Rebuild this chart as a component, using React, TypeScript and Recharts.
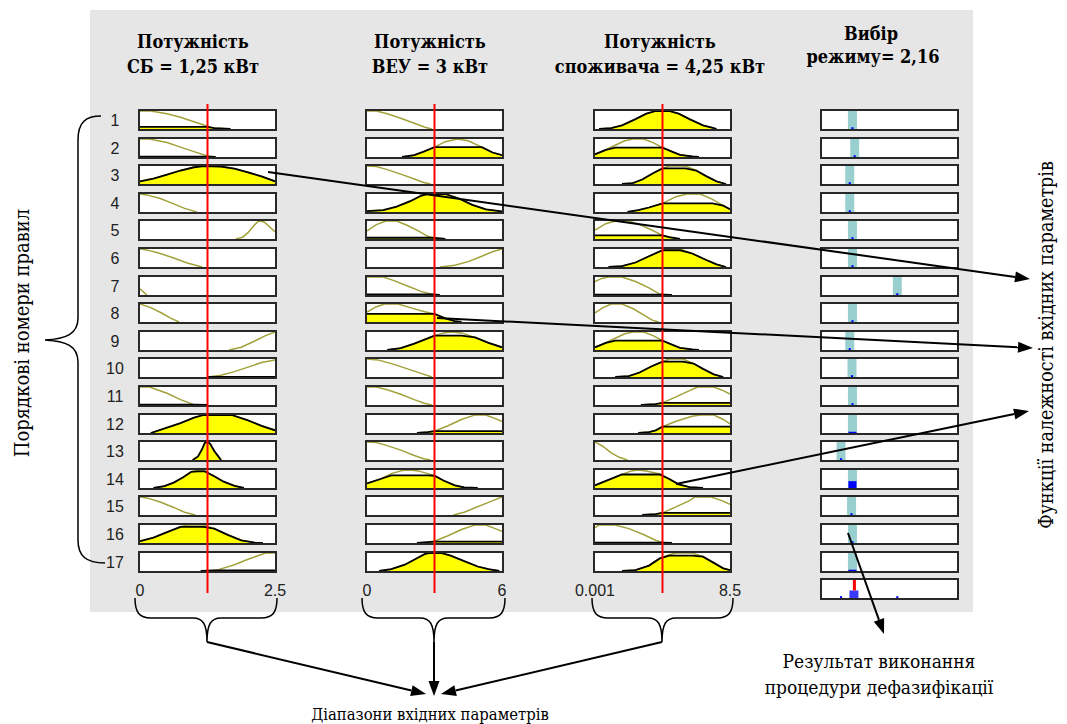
import React from "react";
import {
  ComposedChart,
  Line,
  Area,
  XAxis,
  YAxis,
  ReferenceLine,
  ReferenceArea,
} from "recharts";

type Pt = [number, number];

// ---- data (x as a fraction of each input range) ----
const ruleNumbers = [1, 2, 3, 4, 5, 6, 7, 8, 9, 10, 11, 12, 13, 14, 15, 16, 17];

const sbTitle = ["Потужність", "СБ = 1,25 кВт"];
const sbDomain = [0, 2.5];
const sbTicks = [0, 2.5];
const sbInput = 1.25;

const veuTitle = ["Потужність", "ВЕУ = 3 кВт"];
const veuDomain = [0, 6];
const veuTicks = [0, 6];
const veuInput = 3;

const loadTitle = ["Потужність", "споживача = 4,25 кВт"];
const loadDomain = [0.001, 8.5];
const loadTicks = [0.001, 8.5];
const loadInput = 4.25;

const outTitle = ["Вибір", "режиму= 2,16"];
const outDomain = [0, 9];
const outValue = 2.16;

const sbMf: Pt[][] = [
  [[0, 1], [0.08, 1], [0.2, 0.85], [0.3, 0.65], [0.4, 0.4], [0.5, 0.15], [0.55, 0.05], [0.67, 0]],
  [[0, 1], [0.07, 1], [0.2, 0.8], [0.3, 0.55], [0.4, 0.3], [0.5, 0.06], [0.56, 0]],
  [[0, 0.15], [0.1, 0.3], [0.2, 0.52], [0.3, 0.75], [0.4, 0.93], [0.47, 1], [0.6, 0.97], [0.7, 0.85], [0.8, 0.65], [0.9, 0.42], [1, 0.15]],
  [[0, 1], [0.05, 0.95], [0.15, 0.75], [0.25, 0.45], [0.33, 0.2], [0.42, 0]],
  [[0.71, 0], [0.76, 0.1], [0.8, 0.35], [0.85, 0.8], [0.88, 1], [0.92, 0.95], [1, 0.4]],
  [[0, 1], [0.05, 0.95], [0.15, 0.75], [0.25, 0.5], [0.35, 0.22], [0.46, 0]],
  [[0, 0.35], [0.05, 0]],
  [[0, 1], [0.08, 0.8], [0.16, 0.5], [0.23, 0.2], [0.29, 0]],
  [[0.66, 0], [0.75, 0.15], [0.85, 0.5], [0.93, 0.8], [1, 1]],
  [[0.5, 0], [0.6, 0.1], [0.7, 0.3], [0.8, 0.55], [0.9, 0.8], [1, 0.95]],
  [[0, 1], [0.07, 1], [0.2, 0.65], [0.3, 0.3], [0.4, 0.02], [0.5, 0]],
  [[0.08, 0], [0.2, 0.3], [0.3, 0.55], [0.4, 0.85], [0.47, 1], [0.68, 1], [0.8, 0.7], [0.9, 0.4], [1, 0.15]],
  [[0.39, 0], [0.43, 0.2], [0.46, 0.6], [0.48, 0.95], [0.5, 1], [0.52, 0.9], [0.55, 0.5], [0.58, 0.2], [0.6, 0]],
  [[0.1, 0], [0.18, 0.1], [0.25, 0.3], [0.32, 0.6], [0.38, 0.9], [0.43, 1], [0.48, 0.95], [0.55, 0.65], [0.62, 0.35], [0.7, 0.12], [0.77, 0]],
  [[0, 1], [0.05, 0.95], [0.15, 0.72], [0.25, 0.42], [0.33, 0.15], [0.41, 0]],
  [[0, 0.1], [0.1, 0.3], [0.2, 0.6], [0.3, 0.9], [0.35, 1], [0.47, 1], [0.55, 0.8], [0.65, 0.45], [0.75, 0.15], [0.85, 0.02], [0.91, 0]],
  [[0.45, 0], [0.57, 0.05], [0.7, 0.35], [0.8, 0.65], [0.93, 1], [1, 1]],
];
const sbLevel = [0.12, 0.02, 1, 0, 0, 0, 0, 0, 0, 0.01, 0.02, 1, 1, 0.92, 0, 0.9, 0.04];

const veuMf: Pt[][] = [
  [[0, 1], [0.07, 1], [0.15, 0.85], [0.25, 0.6], [0.35, 0.32], [0.43, 0.1], [0.48, 0]],
  [[0.26, 0], [0.35, 0.1], [0.42, 0.3], [0.5, 0.55], [0.58, 0.85], [0.67, 1], [0.75, 0.9], [0.85, 0.55], [0.93, 0.25], [1, 0.1]],
  [[0, 1], [0.07, 0.97], [0.15, 0.8], [0.25, 0.55], [0.35, 0.28], [0.42, 0.08], [0.47, 0]],
  [[0, 0.05], [0.12, 0.1], [0.22, 0.3], [0.32, 0.6], [0.4, 0.9], [0.45, 1], [0.58, 1], [0.68, 0.75], [0.78, 0.4], [0.88, 0.15], [1, 0.03]],
  [[0, 0.45], [0.07, 0.8], [0.14, 1], [0.22, 1], [0.3, 0.75], [0.38, 0.45], [0.45, 0.15], [0.5, 0.06], [0.58, 0]],
  [[0.54, 0], [0.65, 0.1], [0.75, 0.3], [0.85, 0.6], [0.93, 0.85], [1, 1]],
  [[0, 1], [0.12, 1], [0.2, 0.8], [0.3, 0.5], [0.4, 0.2], [0.49, 0.03], [0.54, 0]],
  [[0, 0.55], [0.07, 0.85], [0.13, 1], [0.23, 1], [0.32, 0.8], [0.42, 0.58], [0.5, 0.45], [0.58, 0.2], [0.65, 0.05], [0.7, 0]],
  [[0.15, 0], [0.25, 0.1], [0.35, 0.35], [0.45, 0.65], [0.5, 0.8], [0.57, 0.95], [0.62, 1], [0.7, 0.95], [0.8, 0.7], [0.9, 0.4], [1, 0.15]],
  [[0, 1], [0.08, 0.95], [0.2, 0.7], [0.3, 0.45], [0.4, 0.2], [0.48, 0]],
  [[0, 1], [0.07, 1], [0.15, 0.85], [0.25, 0.6], [0.35, 0.3], [0.43, 0.08], [0.48, 0]],
  [[0.37, 0], [0.45, 0.05], [0.5, 0.1], [0.6, 0.4], [0.7, 0.75], [0.78, 0.95], [0.8, 1], [0.88, 1], [0.95, 0.8], [1, 0.65]],
  [[0, 1], [0.07, 0.97], [0.15, 0.8], [0.25, 0.55], [0.35, 0.25], [0.42, 0.07], [0.47, 0]],
  [[0, 0.25], [0.1, 0.5], [0.18, 0.8], [0.26, 0.97], [0.32, 1], [0.38, 0.95], [0.45, 0.8], [0.5, 0.68], [0.57, 0.4], [0.65, 0.15], [0.72, 0.03], [0.82, 0]],
  [[0.64, 0], [0.72, 0.15], [0.8, 0.4], [0.9, 0.7], [1, 1]],
  [[0.37, 0], [0.45, 0.05], [0.5, 0.1], [0.6, 0.4], [0.7, 0.75], [0.78, 0.95], [0.8, 1], [0.88, 1], [0.95, 0.8], [1, 0.65]],
  [[0.09, 0], [0.18, 0.1], [0.28, 0.35], [0.38, 0.75], [0.43, 0.95], [0.46, 1], [0.55, 1], [0.62, 0.85], [0.72, 0.55], [0.82, 0.25], [0.9, 0.1], [0.98, 0]],
];
const veuLevel = [0, 0.55, 0, 1, 0.07, 0, 0.03, 0.45, 0.8, 0, 0, 0.1, 0, 0.7, 0, 0.08, 1];

const loadMf: Pt[][] = [
  [[0.03, 0], [0.12, 0.05], [0.2, 0.2], [0.3, 0.55], [0.38, 0.85], [0.45, 1], [0.55, 1], [0.62, 0.85], [0.7, 0.55], [0.8, 0.2], [0.88, 0.05], [0.9, 0]],
  [[0, 0.15], [0.08, 0.4], [0.15, 0.65], [0.22, 0.9], [0.28, 1], [0.36, 1], [0.43, 0.8], [0.5, 0.52], [0.57, 0.3], [0.63, 0.12], [0.72, 0.03], [0.77, 0]],
  [[0.2, 0], [0.28, 0.05], [0.35, 0.25], [0.43, 0.6], [0.5, 0.87], [0.55, 1], [0.67, 1], [0.75, 0.75], [0.82, 0.45], [0.9, 0.15], [0.97, 0]],
  [[0.24, 0], [0.32, 0.1], [0.4, 0.25], [0.5, 0.48], [0.6, 0.85], [0.68, 1], [0.78, 1], [0.87, 0.7], [0.95, 0.35], [1, 0.15]],
  [[0, 0.5], [0.08, 0.85], [0.15, 1], [0.25, 1], [0.33, 0.8], [0.42, 0.5], [0.5, 0.2], [0.55, 0.1], [0.63, 0]],
  [[0.1, 0], [0.2, 0.05], [0.3, 0.25], [0.4, 0.6], [0.5, 0.93], [0.52, 1], [0.63, 1], [0.72, 0.75], [0.82, 0.4], [0.9, 0.15], [0.97, 0]],
  [[0, 0.75], [0.05, 0.92], [0.1, 1], [0.2, 1], [0.3, 0.75], [0.4, 0.4], [0.48, 0.05], [0.57, 0]],
  [[0, 0.5], [0.06, 0.8], [0.12, 1], [0.2, 1], [0.28, 0.75], [0.36, 0.4], [0.42, 0.12], [0.47, 0]],
  [[0, 0.15], [0.08, 0.4], [0.15, 0.65], [0.22, 0.9], [0.28, 1], [0.36, 1], [0.43, 0.8], [0.5, 0.52], [0.57, 0.3], [0.63, 0.12], [0.72, 0.03], [0.77, 0]],
  [[0.15, 0], [0.25, 0.05], [0.33, 0.25], [0.42, 0.6], [0.5, 0.85], [0.55, 1], [0.65, 1], [0.73, 0.75], [0.8, 0.45], [0.88, 0.15], [0.95, 0]],
  [[0.34, 0], [0.45, 0.05], [0.5, 0.12], [0.6, 0.45], [0.7, 0.8], [0.76, 1], [0.88, 1], [0.95, 0.8], [1, 0.6]],
  [[0.32, 0], [0.4, 0.05], [0.45, 0.15], [0.5, 0.35], [0.6, 0.65], [0.72, 0.93], [0.78, 1], [0.88, 1], [0.95, 0.75], [1, 0.5]],
  [[0, 1], [0.06, 0.75], [0.12, 0.4], [0.18, 0.15], [0.24, 0]],
  [[0, 0.15], [0.1, 0.45], [0.2, 0.75], [0.27, 0.95], [0.32, 1], [0.38, 0.95], [0.48, 0.78], [0.55, 0.5], [0.62, 0.2], [0.7, 0.05], [0.8, 0]],
  [[0.35, 0], [0.45, 0.05], [0.5, 0.12], [0.6, 0.45], [0.7, 0.8], [0.74, 1], [0.86, 1], [0.94, 0.8], [1, 0.6]],
  [[0, 0.85], [0.03, 1], [0.15, 1], [0.25, 0.8], [0.35, 0.5], [0.45, 0.15], [0.5, 0.02], [0.57, 0]],
  [[0.2, 0], [0.3, 0.05], [0.4, 0.3], [0.48, 0.7], [0.55, 0.9], [0.6, 1], [0.72, 1], [0.8, 0.8], [0.88, 0.45], [0.95, 0.15], [1, 0.05]],
];
const loadLevel = [1, 0.52, 0.87, 0.48, 0.2, 0.93, 0.02, 0, 0.52, 0.85, 0.12, 0.35, 0, 0.75, 0.12, 0.02, 0.85];

// output singletons (units of the 0..9 output range) and rule firing
const outSingleton = [2.03, 2.18, 1.85, 1.85, 2.03, 2.03, 5.02, 2.03, 1.85, 2.0, 2.03, 2.03, 1.27, 2.03, 1.97, 2.03, 2.03];
const outFiring = [0, 0, 0, 0, 0, 0, 0, 0, 0, 0, 0, 0.07, 0, 0.38, 0, 0, 0.07];
const aggBlock = 0.42;

// ---- layout ----
const CELL_W = 139;
const CELL_H = 22;
const ROW_TOP = 109;
const ROW_STEP = 27.6;
const colLeft = [138, 365, 593, 820];
const rowTop = (i: number) => ROW_TOP + i * ROW_STEP;

const OLIVE = "#a3a13a";
const TEAL = "#9acfd0";
const SANS = "Liberation Sans, Arial, sans-serif";
const SERIF = "DejaVu Serif Condensed, DejaVu Serif";

const cellBox: React.CSSProperties = {
  position: "absolute",
  width: CELL_W,
  height: CELL_H,
  boxSizing: "border-box",
  border: "2px solid #282828",
  background: "#fff",
};

function MfCell({ pts, level, left, top }: { pts: Pt[]; level: number; left: number; top: number }) {
  const data = pts.map(([t, y]) => ({ t, mf: y, fire: Math.min(y, level) }));
  return (
    <div style={{ ...cellBox, left, top }}>
      <ComposedChart width={CELL_W - 4} height={CELL_H - 4} data={data} margin={{ top: 0, right: 0, bottom: 0, left: 0 }}>
        <XAxis dataKey="t" type="number" domain={[0, 1]} hide />
        <YAxis domain={[0, 1]} hide />
        {level > 0 && (
          <Area
            type="linear"
            dataKey="fire"
            stroke="none"
            fill="#ffff00"
            fillOpacity={1}
            baseValue={0}
            dot={false}
            activeDot={false}
            isAnimationActive={false}
          />
        )}
        <Line type="linear" dataKey="mf" stroke={OLIVE} strokeWidth={1.5} dot={false} activeDot={false} isAnimationActive={false} />
        {level > 0 && (
          <Line type="linear" dataKey="fire" stroke="#000" strokeWidth={1.8} dot={false} activeDot={false} isAnimationActive={false} />
        )}
      </ComposedChart>
    </div>
  );
}

function OutCell({ value, firing, top }: { value: number; firing: number; top: number }) {
  const w = firing > 0.02 ? 0.27 : 0.07;
  const h = firing > 0.02 ? firing : 0.1;
  // transparent two-point series spanning the range so the chart lays out its axes
  const data = [{ x: outDomain[0], f: 0 }, { x: outDomain[1], f: 0 }];
  return (
    <div style={{ ...cellBox, left: colLeft[3], top }}>
      <ComposedChart width={CELL_W - 4} height={CELL_H - 4} data={data} margin={{ top: 0, right: 0, bottom: 0, left: 0 }}>
        <XAxis dataKey="x" type="number" domain={outDomain} hide />
        <YAxis domain={[0, 1]} hide />
        <Line dataKey="f" stroke="#fff" strokeOpacity={0} dot={false} activeDot={false} isAnimationActive={false} />
        <ReferenceArea x1={value - 0.3} x2={value + 0.3} y1={0} y2={1} fill={TEAL} fillOpacity={1} stroke="none" />
        <ReferenceArea x1={value - w} x2={value + w} y1={0} y2={h} fill="#0000ff" fillOpacity={1} stroke="none" />
      </ComposedChart>
    </div>
  );
}

function AggCell({ top }: { top: number }) {
  const data = [{ x: outDomain[0], f: 0 }, { x: outDomain[1], f: 0 }];
  return (
    <div style={{ ...cellBox, left: colLeft[3], top }}>
      <ComposedChart width={CELL_W - 4} height={CELL_H - 4} data={data} margin={{ top: 0, right: 0, bottom: 0, left: 0 }}>
        <XAxis dataKey="x" type="number" domain={outDomain} hide />
        <YAxis domain={[0, 1]} hide />
        <Line dataKey="f" stroke="#fff" strokeOpacity={0} dot={false} activeDot={false} isAnimationActive={false} />
        <ReferenceArea x1={outValue - 0.33} x2={outValue + 0.27} y1={0} y2={aggBlock} fill="#3a3aff" fillOpacity={1} stroke="none" />
        <ReferenceArea x1={outSingleton[12] - 0.07} x2={outSingleton[12] + 0.07} y1={0} y2={0.1} fill="#0000ff" fillOpacity={1} stroke="none" />
        <ReferenceArea x1={outSingleton[6] - 0.07} x2={outSingleton[6] + 0.07} y1={0} y2={0.1} fill="#0000ff" fillOpacity={1} stroke="none" />
        <ReferenceLine segment={[{ x: outValue, y: aggBlock }, { x: outValue, y: 1 }]} stroke="#ff0000" strokeWidth={3} />
      </ComposedChart>
    </div>
  );
}

const AxisTick = (props: any) => {
  const { x, y, payload } = props;
  return (
    <text x={x} y={y} dy={3} textAnchor="middle" fontFamily={SANS} fontSize={16} fill="#222">
      {String(payload.value)}
    </text>
  );
};

function InputOverlay({ left, domain, ticks, value }: { left: number; domain: number[]; ticks: number[]; value: number }) {
  const M = 30;
  const data = [{ x: domain[0], y: -1 }, { x: domain[1], y: -1 }];
  return (
    <div style={{ position: "absolute", left: left + 2 - M, top: 104, pointerEvents: "none" }}>
      <ComposedChart width={CELL_W - 4 + 2 * M} height={509} data={data} margin={{ top: 0, right: M, bottom: 0, left: M }}>
        <XAxis
          dataKey="x"
          type="number"
          domain={domain}
          ticks={ticks}
          interval={0}
          height={20}
          axisLine={false}
          tickLine={false}
          tickSize={0}
          tickMargin={0}
          tick={<AxisTick />}
        />
        <YAxis hide domain={[0, 1]} allowDataOverflow />
        <Line dataKey="y" stroke="#fff" strokeOpacity={0} dot={false} activeDot={false} isAnimationActive={false} />
        <ReferenceLine x={value} stroke="#ff0000" strokeWidth={2} />
      </ComposedChart>
    </div>
  );
}

function Arrow({ x1, y1, x2, y2 }: { x1: number; y1: number; x2: number; y2: number }) {
  const a = Math.atan2(y2 - y1, x2 - x1);
  const L = 15;
  const W = 5.5;
  const bx = x2 - L * Math.cos(a);
  const by = y2 - L * Math.sin(a);
  const px = -Math.sin(a) * W;
  const py = Math.cos(a) * W;
  return (
    <g>
      <line x1={x1} y1={y1} x2={bx} y2={by} stroke="#000" strokeWidth={2} />
      <polygon points={`${x2},${y2} ${bx + px},${by + py} ${bx - px},${by - py}`} fill="#000" />
    </g>
  );
}

function BottomBrace({ x1, x2, mid }: { x1: number; x2: number; mid: number }) {
  const y0 = 598;
  const y1 = 618;
  const tip = 642;
  const d = `M ${x1} ${y0} C ${x1} ${y1 - 6}, ${x1 + 4} ${y1}, ${x1 + 16} ${y1} L ${mid - 14} ${y1} C ${mid - 4} ${y1}, ${mid} ${y1 + 6}, ${mid} ${tip} C ${mid} ${y1 + 6}, ${mid + 4} ${y1}, ${mid + 14} ${y1} L ${x2 - 16} ${y1} C ${x2 - 4} ${y1}, ${x2} ${y1 - 6}, ${x2} ${y0}`;
  return <path d={d} fill="none" stroke="#000" strokeWidth={1.5} />;
}

const titles = [sbTitle, veuTitle, loadTitle];
const mfs = [sbMf, veuMf, loadMf];
const levels = [sbLevel, veuLevel, loadLevel];
const domains = [sbDomain, veuDomain, loadDomain];
const tickSets = [sbTicks, veuTicks, loadTicks];
const inputs = [sbInput, veuInput, loadInput];
const titleCenters = [193, 430, 660];

export default function App() {
  return (
    <div style={{ position: "absolute", left: 0, top: 0, width: 1067, height: 724, background: "#fff", overflow: "hidden" }}>
      <div style={{ position: "absolute", left: 90, top: 10, width: 883, height: 602, background: "#e6e6e6" }} />

      {mfs.map((col, c) =>
        col.map((pts, r) => (
          <MfCell key={`${c}-${r}`} pts={pts} level={levels[c][r]} left={colLeft[c]} top={rowTop(r)} />
        ))
      )}
      {outSingleton.map((v, r) => (
        <OutCell key={`o-${r}`} value={v} firing={outFiring[r]} top={rowTop(r)} />
      ))}
      <AggCell top={rowTop(17)} />

      {domains.map((d, c) => (
        <InputOverlay key={`ov-${c}`} left={colLeft[c]} domain={d} ticks={tickSets[c]} value={inputs[c]} />
      ))}

      <svg width={1067} height={724} style={{ position: "absolute", left: 0, top: 0, pointerEvents: "none" }}>
        {titles.map((t, c) => (
          <g key={`t-${c}`} fontFamily={SERIF} fontWeight="bold" fontSize={18} textAnchor="middle" fill="#000">
            <text x={titleCenters[c]} y={48}>{t[0]}</text>
            <text x={titleCenters[c]} y={73}>{t[1]}</text>
          </g>
        ))}
        <g fontFamily={SERIF} fontWeight="bold" fontSize={18} textAnchor="middle" fill="#000">
          <text x={871} y={40}>{outTitle[0]}</text>
          <text x={873} y={63}>{outTitle[1]}</text>
        </g>

        {ruleNumbers.map((n, r) => (
          <text key={`n-${n}`} x={115} y={rowTop(r) + 17} textAnchor="middle" fontFamily={SANS} fontSize={16} fill="#222">
            {n}
          </text>
        ))}

        {/* left brace */}
        <path
          d="M 101 116 C 86 116, 78 122, 78 140 L 78 318 C 78 334, 66 339, 45 340 C 66 341, 78 346, 78 362 L 78 540 C 78 556, 86 563, 105 563"
          fill="none"
          stroke="#000"
          strokeWidth={1.5}
        />
        <text transform="rotate(-90 29 333)" x={29} y={333} textAnchor="middle" fontFamily={SERIF} fontSize={20} fill="#000">
          Порядкові номери правил
        </text>

        {/* arrows to the membership function label */}
        <Arrow x1={268} y1={172} x2={1030} y2={279} />
        <Arrow x1={437} y1={318} x2={1033} y2={348} />
        <Arrow x1={676} y1={484} x2={1029} y2={411} />
        <text transform="rotate(-90 1053 345)" x={1053} y={345} textAnchor="middle" fontFamily={SERIF} fontSize={19.5} fill="#000">
          Функції належності вхідних параметрів
        </text>

        {/* bottom braces and arrows */}
        <BottomBrace x1={135} x2={277} mid={207} />
        <BottomBrace x1={362} x2={505} mid={434} />
        <BottomBrace x1={592} x2={733} mid={662} />
        <Arrow x1={207} y1={642} x2={426} y2={694} />
        <Arrow x1={434} y1={642} x2={434} y2={696} />
        <Arrow x1={662} y1={642} x2={441} y2={694} />
        <text x={430} y={720} textAnchor="middle" fontFamily={SERIF} fontSize={16.5} fill="#000">
          Діапазони вхідних параметрів
        </text>

        {/* defuzzification result */}
        <Arrow x1={848} y1={533} x2={884} y2={634} />
        <text x={879} y={668} textAnchor="middle" fontFamily={SERIF} fontSize={19} fill="#000">
          Результат виконання
        </text>
        <text x={879} y={694} textAnchor="middle" fontFamily={SERIF} fontSize={19} fill="#000">
          процедури дефазифікації
        </text>
      </svg>
    </div>
  );
}
